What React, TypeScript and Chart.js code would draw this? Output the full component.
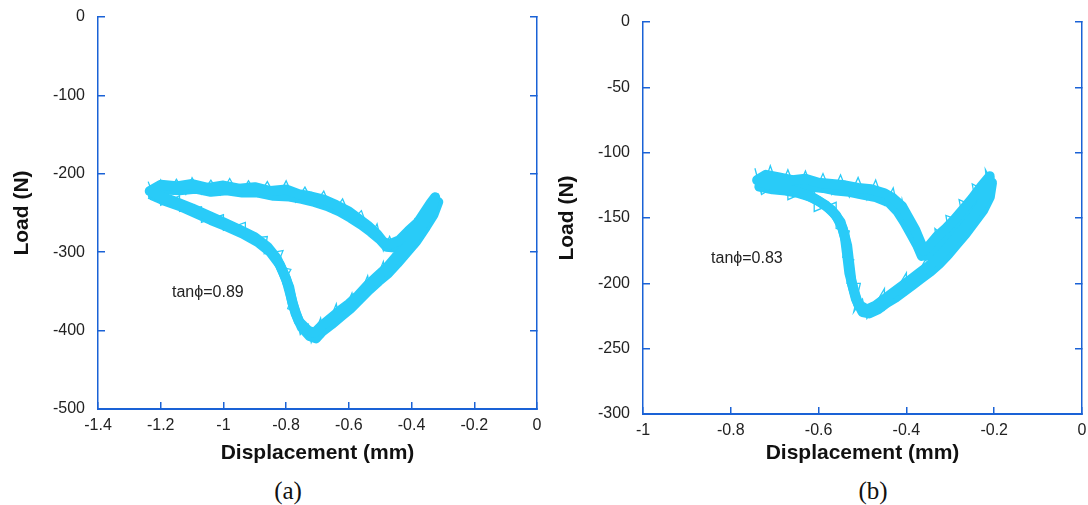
import React, { useEffect, useRef } from "react";
import { Chart, registerables } from "chart.js";

Chart.register(...registerables);

// ---------- data ----------
const xTicksA = [-1.4, -1.2, -1, -0.8, -0.6, -0.4, -0.2, 0];
const yTicksA = [0, -100, -200, -300, -400, -500];
const xTicksB = [-1, -0.8, -0.6, -0.4, -0.2, 0];
const yTicksB = [0, -50, -100, -150, -200, -250, -300];

// panel (a): displacement (mm), load (N) — recorded cycles
const loopA1: [number, number][] = [
  [-1.235, -222], [-1.2, -214], [-1.15, -216], [-1.1, -213], [-1.05, -218], [-1.0, -215],
  [-0.95, -219], [-0.9, -217], [-0.85, -222], [-0.8, -220], [-0.76, -226], [-0.72, -229],
  [-0.68, -233], [-0.64, -240], [-0.6, -248], [-0.57, -257], [-0.54, -266], [-0.51, -277],
  [-0.49, -287], [-0.47, -290], [-0.44, -285], [-0.41, -273], [-0.38, -262], [-0.36, -250],
  [-0.34, -238], [-0.325, -230],
  [-0.335, -245], [-0.36, -262], [-0.39, -282], [-0.42, -296], [-0.45, -306], [-0.48, -320],
  [-0.51, -331], [-0.54, -342], [-0.57, -355], [-0.6, -366], [-0.63, -375], [-0.66, -385],
  [-0.69, -395], [-0.71, -403], [-0.73, -400], [-0.76, -388], [-0.78, -365], [-0.79, -345],
  [-0.81, -325], [-0.83, -308], [-0.86, -293], [-0.9, -281], [-0.95, -271], [-1.0, -262],
  [-1.05, -253], [-1.1, -244], [-1.15, -236], [-1.2, -229], [-1.235, -222],
];
const loopA2: [number, number][] = [
  [-1.225, -228], [-1.19, -220], [-1.14, -221], [-1.09, -219], [-1.04, -223], [-0.99, -221],
  [-0.94, -224], [-0.89, -224], [-0.84, -228], [-0.79, -229], [-0.75, -232], [-0.71, -236],
  [-0.67, -241], [-0.63, -248], [-0.595, -256], [-0.56, -265], [-0.53, -274], [-0.5, -284],
  [-0.48, -293], [-0.455, -294], [-0.43, -286], [-0.4, -277], [-0.37, -266], [-0.35, -255],
  [-0.33, -243], [-0.315, -236],
  [-0.33, -252], [-0.355, -268], [-0.385, -286], [-0.415, -300], [-0.445, -314], [-0.475, -327],
  [-0.505, -337], [-0.535, -348], [-0.565, -360], [-0.595, -372], [-0.625, -382], [-0.655, -392],
  [-0.685, -401], [-0.705, -410], [-0.725, -407], [-0.75, -396], [-0.77, -378], [-0.785, -356],
  [-0.8, -334], [-0.82, -316], [-0.85, -300], [-0.89, -287], [-0.94, -276], [-0.99, -267],
  [-1.04, -259], [-1.09, -250], [-1.14, -241], [-1.19, -234], [-1.225, -228],
];
// scatter of the noisy signal around the cycles
const noiseA: [number, number][] = [
  [-1.24, -210], [-1.22, -232], [-1.2, -208], [-1.18, -228], [-1.15, -207], [-1.12, -226],
  [-1.1, -205], [-1.07, -226], [-1.04, -208], [-1.01, -227], [-0.98, -206], [-0.95, -228],
  [-0.92, -209], [-0.89, -229], [-0.86, -210], [-0.83, -232], [-0.8, -209], [-0.77, -236],
  [-0.74, -217], [-0.71, -240], [-0.68, -222], [-0.65, -250], [-0.62, -232], [-0.59, -260],
  [-0.56, -247], [-0.53, -280], [-0.51, -264], [-0.49, -298], [-0.47, -280], [-0.45, -300],
  [-0.43, -276], [-0.41, -288], [-0.39, -258], [-0.37, -275], [-0.35, -240], [-0.33, -256],
  [-0.315, -225],
  [-0.34, -262], [-0.35, -240], [-0.38, -290], [-0.39, -265], [-0.43, -310], [-0.44, -290],
  [-0.48, -332], [-0.49, -312], [-0.53, -352], [-0.54, -330], [-0.58, -368], [-0.59, -352],
  [-0.63, -388], [-0.64, -366], [-0.68, -406], [-0.69, -384], [-0.72, -415], [-0.73, -392],
  [-0.755, -405], [-0.77, -376], [-0.795, -372], [-0.775, -350], [-0.81, -340], [-0.785, -322],
  [-0.83, -318], [-0.81, -298], [-0.87, -302], [-0.86, -280], [-0.93, -283], [-0.93, -262],
  [-1.0, -272], [-1.0, -252], [-1.07, -262], [-1.07, -242], [-1.14, -248], [-1.14, -228],
  [-1.2, -240], [-1.21, -218], [-1.24, -232],
];

// panel (b)
const loopB1: [number, number][] = [
  [-0.74, -121], [-0.72, -117], [-0.69, -119], [-0.66, -121], [-0.63, -120], [-0.6, -123],
  [-0.57, -124], [-0.54, -125], [-0.51, -127], [-0.48, -128], [-0.45, -131], [-0.43, -135],
  [-0.41, -141], [-0.395, -150], [-0.38, -159], [-0.37, -167], [-0.36, -175], [-0.35, -172],
  [-0.33, -164], [-0.31, -158], [-0.29, -151], [-0.27, -143], [-0.25, -135], [-0.23, -126],
  [-0.21, -118],
  [-0.215, -130], [-0.23, -140], [-0.25, -150], [-0.27, -158], [-0.29, -166], [-0.31, -174],
  [-0.33, -181], [-0.35, -187], [-0.37, -192], [-0.39, -197], [-0.41, -202], [-0.43, -207],
  [-0.45, -212], [-0.47, -217], [-0.49, -220], [-0.51, -216], [-0.52, -205], [-0.53, -192],
  [-0.535, -178], [-0.54, -165], [-0.55, -153], [-0.57, -144], [-0.6, -137], [-0.63, -132],
  [-0.66, -129], [-0.69, -126], [-0.72, -124], [-0.74, -121],
];
const loopB2: [number, number][] = [
  [-0.735, -126], [-0.71, -122], [-0.68, -124], [-0.65, -125], [-0.62, -126], [-0.59, -127],
  [-0.56, -129], [-0.53, -130], [-0.5, -132], [-0.47, -134], [-0.44, -138], [-0.42, -145],
  [-0.405, -153], [-0.39, -162], [-0.375, -171], [-0.365, -179], [-0.345, -178], [-0.325, -170],
  [-0.305, -162], [-0.285, -155], [-0.265, -147], [-0.245, -139], [-0.225, -130], [-0.205, -123],
  [-0.21, -134], [-0.225, -144], [-0.245, -153], [-0.265, -162], [-0.285, -170], [-0.305, -178],
  [-0.325, -185], [-0.345, -191], [-0.365, -196], [-0.385, -201], [-0.405, -206], [-0.425, -211],
  [-0.445, -215], [-0.465, -220], [-0.485, -223], [-0.5, -222], [-0.515, -212], [-0.525, -199],
  [-0.53, -185], [-0.535, -171], [-0.545, -158], [-0.56, -148], [-0.585, -140], [-0.615, -134],
  [-0.645, -131], [-0.675, -129], [-0.705, -128], [-0.735, -126],
];
const noiseB: [number, number][] = [
  [-0.745, -112], [-0.73, -130], [-0.71, -110], [-0.69, -129], [-0.67, -113], [-0.65, -130],
  [-0.63, -114], [-0.61, -131], [-0.59, -116], [-0.57, -132], [-0.55, -117], [-0.53, -134],
  [-0.51, -119], [-0.49, -136], [-0.47, -121], [-0.45, -140], [-0.43, -127], [-0.415, -150],
  [-0.41, -136], [-0.39, -166], [-0.395, -148], [-0.37, -180], [-0.375, -160], [-0.355, -183],
  [-0.36, -168], [-0.33, -176], [-0.335, -158], [-0.3, -168], [-0.31, -148], [-0.27, -153],
  [-0.28, -136], [-0.24, -142], [-0.25, -124], [-0.215, -130], [-0.22, -113],
  [-0.2, -126], [-0.23, -150], [-0.225, -132], [-0.27, -166], [-0.26, -148], [-0.31, -182],
  [-0.3, -164], [-0.35, -195], [-0.35, -178], [-0.4, -208], [-0.4, -192], [-0.45, -220],
  [-0.45, -204], [-0.49, -227], [-0.5, -212], [-0.52, -222], [-0.505, -200], [-0.535, -200],
  [-0.52, -182], [-0.545, -180], [-0.53, -160], [-0.56, -158], [-0.56, -138], [-0.61, -145],
  [-0.61, -127], [-0.67, -136], [-0.67, -120], [-0.73, -132], [-0.745, -112],
];

const noteA = { text: "tanϕ=0.89", x: -1.164, y: -351 };
const noteB = { text: "tanϕ=0.83", x: -0.845, y: -181 };

// ---------- styling ----------
const AXIS = "#1a62d6";
const LINE = "#29cbf8";
const SANS = "'Liberation Sans', Arial, Helvetica, sans-serif";

type PanelCfg = {
  xMin: number; xMax: number; xTicks: number[];
  yMin: number; yMax: number; yTicks: number[];
  loops: [number, number][][];
  noise: [number, number][];
  note: { text: string; x: number; y: number };
  yW: number; y2W: number; xH: number; top: number;
  yTitlePad: number; xTitlePad: number;
};

function fmt(v: number) {
  return String(Math.round(v * 100) / 100);
}

function zeroPad(s: any) {
  s.paddingTop = 0;
  s.paddingBottom = 0;
  s.paddingLeft = 0;
  s.paddingRight = 0;
}

function Panel({ cfg, style }: { cfg: PanelCfg; style: React.CSSProperties }) {
  const ref = useRef<HTMLCanvasElement | null>(null);
  useEffect(() => {
    if (!ref.current) return;
    const notePlugin = {
      id: "note",
      afterDatasetsDraw(chart: any) {
        const { ctx, scales } = chart;
        ctx.save();
        ctx.font = `16px ${SANS}`;
        ctx.fillStyle = "#222";
        ctx.textAlign = "left";
        ctx.textBaseline = "middle";
        ctx.fillText(cfg.note.text, scales.x.getPixelForValue(cfg.note.x), scales.y.getPixelForValue(cfg.note.y));
        ctx.restore();
      },
    };
    const gridOpts = {
      drawOnChartArea: false,
      drawTicks: true,
      tickLength: -7,
      color: AXIS,
      lineWidth: 1.5,
    };
    const loopSets = cfg.loops.map((loop) => ({
      data: loop.map(([x, y]) => ({ x, y })),
      borderColor: LINE,
      backgroundColor: LINE,
      borderWidth: 10,
      pointRadius: 0,
      tension: 0,
      fill: false,
      borderJoinStyle: "round" as const,
      borderCapStyle: "round" as const,
    }));
    const noiseSet = {
      data: cfg.noise.map(([x, y]) => ({ x, y })),
      borderColor: LINE,
      backgroundColor: LINE,
      borderWidth: 1.3,
      pointRadius: 0,
      tension: 0,
      fill: false,
    };
    const chart = new Chart(ref.current, {
      type: "line",
      data: { datasets: [...loopSets, noiseSet] },
      options: {
        animation: false,
        responsive: false,
        maintainAspectRatio: false,
        parsing: false as any,
        layout: { padding: { top: cfg.top, left: 0, right: 0, bottom: 0 } },
        plugins: { legend: { display: false }, tooltip: { enabled: false } },
        scales: {
          x: {
            type: "linear",
            position: "bottom",
            min: cfg.xMin,
            max: cfg.xMax,
            afterBuildTicks: (s: any) => { s.ticks = cfg.xTicks.map((v) => ({ value: v })); },
            afterFit: (s: any) => { s.height = cfg.xH; zeroPad(s); },
            ticks: {
              autoSkip: false, maxRotation: 0, padding: 14, color: "#222",
              font: { family: SANS, size: 16 },
              callback: (v: any) => fmt(Number(v)),
            },
            grid: gridOpts,
            border: { display: true, color: AXIS, width: 2 },
            title: {
              display: true, text: "Displacement (mm)", color: "#111",
              font: { family: SANS, size: 21, weight: "bold" },
              padding: { top: 0, bottom: cfg.xTitlePad },
            },
          },
          y: {
            type: "linear",
            position: "left",
            min: cfg.yMin,
            max: cfg.yMax,
            afterBuildTicks: (s: any) => { s.ticks = cfg.yTicks.map((v) => ({ value: v })); },
            afterFit: (s: any) => { s.width = cfg.yW; zeroPad(s); },
            ticks: {
              autoSkip: false, padding: 20, color: "#222",
              font: { family: SANS, size: 16 },
              callback: (v: any) => fmt(Number(v)),
            },
            grid: gridOpts,
            border: { display: true, color: AXIS, width: 1.5 },
            title: {
              display: true, text: "Load (N)", color: "#111",
              font: { family: SANS, size: 21, weight: "bold" },
              padding: { top: cfg.yTitlePad, bottom: 0 },
            },
          },
          y2: {
            type: "linear",
            position: "right",
            min: cfg.yMin,
            max: cfg.yMax,
            afterBuildTicks: (s: any) => { s.ticks = cfg.yTicks.map((v) => ({ value: v })); },
            afterFit: (s: any) => { s.width = cfg.y2W; zeroPad(s); },
            ticks: { display: false },
            grid: gridOpts,
            border: { display: true, color: AXIS, width: 1.5 },
          },
        },
      } as any,
      plugins: [notePlugin],
    });
    return () => chart.destroy();
  }, [cfg]);
  const w = style.width as number;
  const h = style.height as number;
  return (
    <div style={{ position: "absolute", ...style }}>
      <canvas ref={ref} width={w} height={h} style={{ width: w, height: h, display: "block" }} />
    </div>
  );
}

const cfgA: PanelCfg = {
  xMin: -1.4, xMax: 0, xTicks: xTicksA,
  yMin: -500, yMax: 0, yTicks: yTicksA,
  loops: [loopA1, loopA2],
  noise: noiseA,
  note: noteA,
  yW: 98, y2W: 13, xH: 60, top: 17,
  yTitlePad: 10, xTitlePad: 3,
};
const cfgB: PanelCfg = {
  xMin: -1, xMax: 0, xTicks: xTicksB,
  yMin: -300, yMax: 0, yTicks: yTicksB,
  loops: [loopB1, loopB2],
  noise: noiseB,
  note: noteB,
  yW: 95, y2W: 6, xH: 60, top: 22,
  yTitlePad: 7, xTitlePad: 8,
};

export default function App() {
  const cap: React.CSSProperties = {
    position: "absolute", top: 476, width: 60, textAlign: "center",
    fontFamily: "'Liberation Serif', 'Times New Roman', serif", fontSize: 25,
    lineHeight: "30px", color: "#111",
  };
  return (
    <div style={{ position: "absolute", left: 0, top: 0, width: 1088, height: 505, background: "#fff", overflow: "hidden" }}>
      <Panel cfg={cfgA} style={{ left: 0, top: 0, width: 550, height: 469 }} />
      <Panel cfg={cfgB} style={{ left: 548, top: 0, width: 540, height: 474 }} />
      <div style={{ ...cap, left: 288 - 30 }}>(a)</div>
      <div style={{ ...cap, left: 873 - 30 }}>(b)</div>
    </div>
  );
}
